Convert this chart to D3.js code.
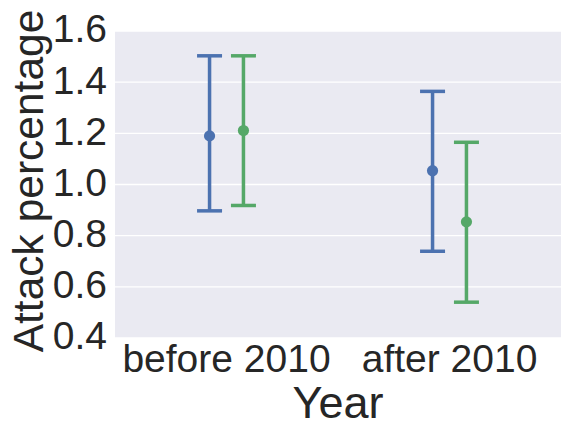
<!DOCTYPE html>
<html>
<head>
<meta charset="utf-8">
<script src="https://cdn.jsdelivr.net/npm/d3@7"></script>
<style>
  html, body { margin: 0; padding: 0; background: #fff; }
  svg { display: block; }
  svg text { font-family: "Liberation Sans", Arial, sans-serif; }
</style>
</head>
<body>
<svg id="chart" width="568" height="433"></svg>
<script>
// categories on the x axis
var categories = ['before 2010', 'after 2010']
// hue levels (two series, dodged)
var series = ['first', 'second']
var seriesColors = ['#4C72B0', '#55A868']
// point estimates and confidence interval bounds, per series
var meanFirst = [1.19, 1.054]
var lowFirst = [0.897, 0.739]
var highFirst = [1.503, 1.364]
var meanSecond = [1.211, 0.854]
var lowSecond = [0.918, 0.540]
var highSecond = [1.503, 1.165]
// y ticks
var yTicks = [0.4, 0.6, 0.8, 1.0, 1.2, 1.4, 1.6]

var margin = { top: 31, right: 7, bottom: 95, left: 115 }
var width = 568, height = 433
var textColor = '#262626'
var font = '"Liberation Sans", Arial, sans-serif'

var svg = d3.select('#chart')

var x = d3.scaleBand()
  .domain(categories)
  .range([margin.left, width - margin.right])
  .padding(0)

var dodge = d3.scalePoint()
  .domain(series)
  .range([-x.bandwidth() * 0.076, x.bandwidth() * 0.076])

var y = d3.scaleLinear()
  .domain([0.4, 1.6])
  .range([height - margin.bottom, margin.top])

// background
svg.append('rect')
  .attr('x', margin.left)
  .attr('y', margin.top)
  .attr('width', width - margin.left - margin.right)
  .attr('height', height - margin.top - margin.bottom)
  .attr('fill', '#EAEAF2')

// grid
svg.append('g')
  .selectAll('line')
  .data(yTicks)
  .enter().append('line')
    .attr('x1', margin.left)
    .attr('x2', width - margin.right)
    .attr('y1', function (d) { return y(d) })
    .attr('y2', function (d) { return y(d) })
    .attr('stroke', '#fff')
    .attr('stroke-width', 1.3)

// y axis
var yAxis = svg.append('g')
  .attr('transform', 'translate(' + margin.left + ',0)')
  .call(d3.axisLeft(y).tickValues(yTicks).tickSize(0).tickPadding(8)
    .tickFormat(d3.format('.1f')))
yAxis.attr('font-family', font)
yAxis.select('.domain').remove()
yAxis.selectAll('text')
  .attr('fill', textColor)
  .attr('font-size', 39)
  .attr('dy', '0.28em')

// x axis
var xAxis = svg.append('g')
  .attr('transform', 'translate(0,' + (height - margin.bottom) + ')')
  .call(d3.axisBottom(x).tickSize(0).tickPadding(6))
xAxis.attr('font-family', font)
xAxis.select('.domain').remove()
xAxis.selectAll('text')
  .attr('fill', textColor)
  .attr('font-size', 39)
  .attr('dy', '0.71em')

// axis labels
svg.append('text')
  .attr('x', (margin.left + width - margin.right) / 2)
  .attr('y', 418)
  .attr('text-anchor', 'middle')
  .attr('fill', textColor)
  .attr('font-size', 45)
  .text('Year')

svg.append('text')
  .attr('transform', 'translate(43,' + ((margin.top + height - margin.bottom) / 2 - 3.5) + ') rotate(-90)')
  .attr('text-anchor', 'middle')
  .attr('fill', textColor)
  .attr('font-size', 42.5)
  .text('Attack percentage')

// build rows for the points
var rows = []
categories.forEach(function (c, i) {
  rows.push({ cat: c, s: 'first', mean: meanFirst[i], low: lowFirst[i], high: highFirst[i], color: seriesColors[0] })
  rows.push({ cat: c, s: 'second', mean: meanSecond[i], low: lowSecond[i], high: highSecond[i], color: seriesColors[1] })
})

function cx(d) { return x(d.cat) + x.bandwidth() / 2 + dodge(d.s) }
var capHalf = 12.5
var lw = 3.5

var g = svg.append('g').selectAll('g')
  .data(rows)
  .enter().append('g')

g.append('line')
  .attr('x1', cx).attr('x2', cx)
  .attr('y1', function (d) { return y(d.low) })
  .attr('y2', function (d) { return y(d.high) })
  .attr('stroke', function (d) { return d.color })
  .attr('stroke-width', lw)

g.append('line')
  .attr('x1', function (d) { return cx(d) - capHalf })
  .attr('x2', function (d) { return cx(d) + capHalf })
  .attr('y1', function (d) { return y(d.low) })
  .attr('y2', function (d) { return y(d.low) })
  .attr('stroke', function (d) { return d.color })
  .attr('stroke-width', lw)

g.append('line')
  .attr('x1', function (d) { return cx(d) - capHalf })
  .attr('x2', function (d) { return cx(d) + capHalf })
  .attr('y1', function (d) { return y(d.high) })
  .attr('y2', function (d) { return y(d.high) })
  .attr('stroke', function (d) { return d.color })
  .attr('stroke-width', lw)

g.append('circle')
  .attr('cx', cx)
  .attr('cy', function (d) { return y(d.mean) })
  .attr('r', 5.6)
  .attr('fill', function (d) { return d.color })
</script>
</body>
</html>
